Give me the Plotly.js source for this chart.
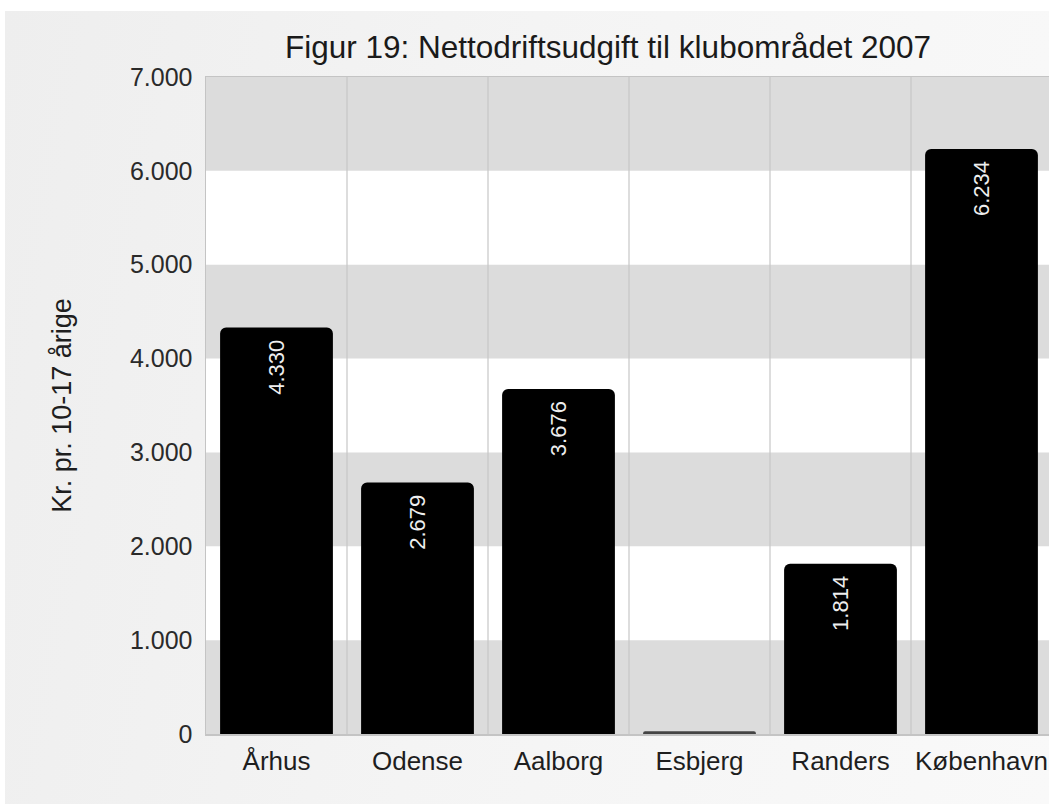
<!DOCTYPE html>
<html>
<head>
<meta charset="utf-8">
<script src="https://cdn.plot.ly/plotly-3.0.1.min.js"></script>
<style>
  html, body { margin: 0; padding: 0; background: #ffffff; width: 1049px; height: 804px; overflow: hidden; }
  #bg { position: absolute; left: 5px; top: 11px; right: 0; bottom: 0;
        background: linear-gradient(100deg, #eeeeee 0%, #f4f4f4 45%, #f9f9f9 100%); }
  #chart { position: absolute; left: 0; top: 0; width: 1060px; height: 804px; }
</style>
</head>
<body>
<div id="bg"></div>
<div id="chart"></div>
<script>
// ---- data ----
const categories = ["Århus", "Odense", "Aalborg", "Esbjerg", "Randers", "København"];
const values = [4330, 2679, 3676, 30, 1814, 6234];
const showLabel = [true, true, true, false, true, true];
const yTicks = [0, 1000, 2000, 3000, 4000, 5000, 6000, 7000];
const titleText = "Figur 19: Nettodriftsudgift til klubområdet 2007";
const yTitleText = "Kr. pr. 10-17 årige";

function fmtDK(v) {
  const s = Math.round(v).toString();
  return s.replace(/\B(?=(\d{3})+(?!\d))/g, ".");
}

const barColors = values.map((v, i) => showLabel[i] ? "#000000" : "#444444");
const labels = values.map((v, i) => showLabel[i] ? fmtDK(v) + "\u00a0" : "");

// background bands (alternating) from tick values
const shapes = [];
for (let i = 0; i < yTicks.length - 1; i++) {
  if (i % 2 === 0) {
    shapes.push({type: "rect", xref: "paper", yref: "y", x0: 0, x1: 1,
      y0: yTicks[i], y1: yTicks[i + 1], fillcolor: "#dcdcdc", line: {width: 0}, layer: "below"});
  }
}
// vertical separators between categories
for (let i = 0; i < categories.length - 1; i++) {
  shapes.push({type: "line", xref: "x", yref: "paper", x0: i + 0.5, x1: i + 0.5, y0: 0, y1: 1,
    line: {color: "#c6c6c6", width: 1.2}, layer: "below"});
}

const trace = {
  type: "bar",
  x: categories,
  y: values,
  marker: {color: barColors, cornerradius: 6, line: {width: 0}},
  text: labels,
  textposition: "inside",
  insidetextanchor: "end",
  textangle: -90,
  constraintext: "none",
  textfont: {family: "Liberation Sans, Arial, sans-serif", size: 22, color: "#eeeeee"},
  hoverinfo: "none"
};

const layout = {
  width: 1060,
  height: 804,
  margin: {l: 206, r: 8, t: 77, b: 70},
  paper_bgcolor: "rgba(0,0,0,0)",
  plot_bgcolor: "#ffffff",
  separators: ",.",
  bargap: 0.2,
  showlegend: false,
  font: {family: "Liberation Sans, Arial, sans-serif", color: "#222222"},
  title: {
    text: titleText,
    font: {size: 31.5, color: "#1a1a1a"},
    x: 608 / 1060, xanchor: "center", xref: "container",
    y: 1 - 47 / 804, yanchor: "middle", yref: "container"
  },
  xaxis: {
    type: "category",
    showgrid: false,
    zeroline: false,
    showline: true, mirror: true, linecolor: "#c4c4c4", linewidth: 1.5,
    ticks: "outside", ticklen: 3, tickcolor: "rgba(0,0,0,0)",
    tickfont: {size: 26, color: "#1e1e1e"},
    fixedrange: true
  },
  yaxis: {
    range: [0, 7000],
    tickvals: yTicks,
    ticktext: yTicks.map(fmtDK),
    showgrid: false,
    zeroline: false,
    showline: true, mirror: true, linecolor: "#c4c4c4", linewidth: 1.5,
    ticks: "outside", ticklen: 7, tickcolor: "rgba(0,0,0,0)",
    tickfont: {size: 25, color: "#2a2a2a"},
    title: {text: yTitleText, font: {size: 27, color: "#1e1e1e"}, standoff: 50},
    fixedrange: true
  },
  shapes: shapes
};

Plotly.newPlot("chart", [trace], layout, {displayModeBar: false, staticPlot: true});
</script>
</body>
</html>
